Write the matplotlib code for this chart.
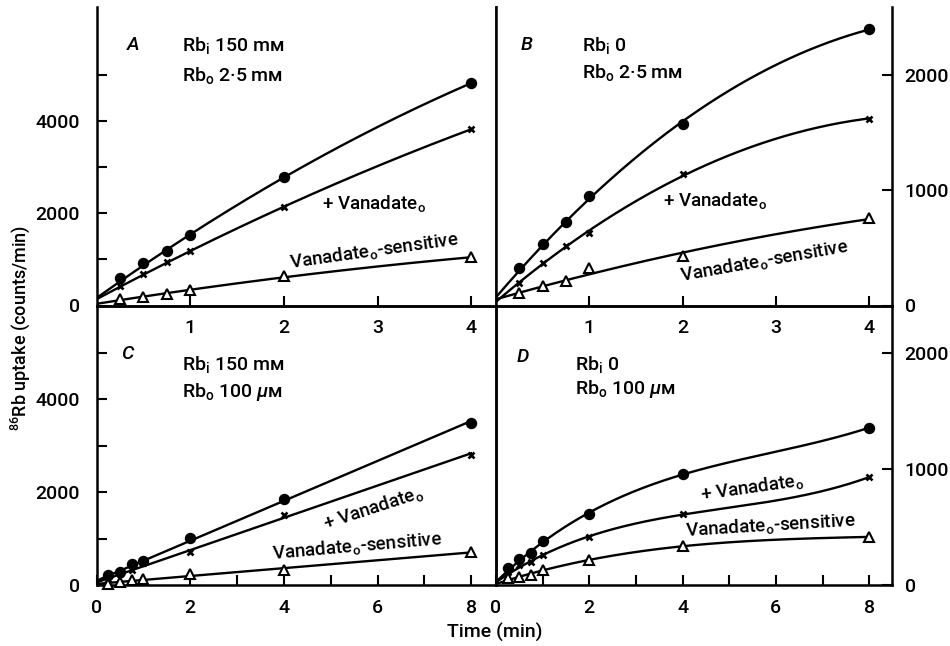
import matplotlib
matplotlib.use('Agg')
import matplotlib.pyplot as plt
import numpy as np

plt.rcParams['font.family'] = ['Roboto', 'DejaVu Sans']
plt.rcParams['font.weight'] = 'medium'
plt.rcParams['mathtext.fontset'] = 'custom'
plt.rcParams['mathtext.rm'] = 'Roboto:medium'
plt.rcParams['mathtext.it'] = 'Roboto:italic:medium'

# time (min); first entry = where the drawn curve starts (no marker there)
t_short = [0, 0.25, 0.5, 0.75, 1, 2, 4]
t_long = [0, 0.25, 0.5, 0.75, 1, 2, 4, 8]

# A: Rb_i 150 mM, Rb_o 2.5 mM
a_ctrl = [100, 590, 913, 1180, 1520, 2780, 4830]
a_van = [100, 430, 690, 935, 1175, 2130, 3830]
a_sens = [40, 135, 180, 260, 326, 630, 1045]

# B: Rb_i 0, Rb_o 2.5 mM
b_ctrl = [40, 321, 535, 725, 945, 1570, 2395]
b_van = [40, 197, 364, 515, 625, 1136, 1618]
b_sens = [40, 108, 170, 208, 321, 425, 754]

# C: Rb_i 150 mM, Rb_o 100 uM
c_ctrl = [0, 215, 285, 450, 520, 1005, 1855, 3490]
c_van = [0, 120, 230, 330, 474, 711, 1508, 2802]
c_sens = [0, 30, 55, 108, 130, 230, 330, 705]

# D: Rb_i 0, Rb_o 100 uM
d_ctrl = [0, 150, 222, 276, 375, 612, 954, 1353]
d_van = [0, 110, 172, 198, 255, 410, 609, 928]
d_sens = [0, 60, 69, 86, 129, 218, 333, 414]

W, H = 950, 646
fig = plt.figure(figsize=(9.5, 6.46), dpi=100)

def box(x0, x1, y0, y1):
    return [x0 / W, 1 - y1 / H, (x1 - x0) / W, (y1 - y0) / H]

axA = fig.add_axes(box(96.5, 496, 7, 305.5))
axB = fig.add_axes(box(496, 892, 7, 305.5))
axC = fig.add_axes(box(96.5, 496, 305.5, 585))
axD = fig.add_axes(box(496, 892, 305.5, 585))
axC.patch.set_visible(False)
axD.patch.set_visible(False)

def draw(ax, t, series, deg):
    tt = np.linspace(0, t[-1], 300)
    for vals, mk, fc, ms, mew in series:
        p = np.polyfit(t, vals, deg)
        ax.plot(tt, np.polyval(p, tt), color='black', lw=1.7, zorder=2)
        ax.plot(t[1:], vals[1:], ls='none', marker=mk, ms=ms, mfc=fc,
                mec='black', mew=mew, zorder=3, clip_on=False)

def styles(ctrl, van, sens):
    return [(ctrl, 'o', 'black', 7, 1.2), (van, 'x', 'black', 5, 1.9),
            (sens, '^', 'white', 7, 1.5)]

draw(axA, t_short, styles(a_ctrl, a_van, a_sens), 2)
draw(axB, t_short, styles(b_ctrl, b_van, b_sens), 2)
draw(axC, t_long, styles(c_ctrl, c_van, c_sens), 1)
draw(axD, t_long, styles(d_ctrl, d_van, d_sens), 3)

for ax in [axA, axB, axC, axD]:
    for s in ax.spines.values():
        s.set_linewidth(1.8)
    ax.tick_params(direction='in', length=7, width=1.5, labelsize=14, pad=10)

axA.spines['top'].set_visible(False)
axB.spines['top'].set_visible(False)

axA.set_xlim(0, 4.264)
axB.set_xlim(0, 4.244)
axC.set_xlim(0, 8.53)
axD.set_xlim(0, 8.49)
axA.set_ylim(0, 6480)
axB.set_ylim(0, 2585)
axC.set_ylim(0, 6013)
axD.set_ylim(0, 2405)

for ax in [axA, axB]:
    ax.set_xticks([1, 2, 3, 4])
for ax in [axC, axD]:
    ax.set_xticks(range(0, 9))
    ax.set_xticklabels(['0', '', '2', '', '4', '', '6', '', '8'])

for ax in [axA, axC]:
    ax.set_yticks(range(0, 6000, 1000))
    ax.set_yticklabels(['0', '', '2000', '', '4000', ''])
    ax.tick_params(axis='y', pad=12)

for ax in [axB, axD]:
    ax.yaxis.tick_right()
    ax.set_yticks([0, 1000, 2000])
    ax.tick_params(axis='y', pad=9)

txt = dict(fontsize=14, color='black')
lab = dict(fontsize=13.5, color='black')

axA.text(0.39, 5650, 'A', style='italic', ha='center', va='center', **txt)
axA.text(0.91, 5650, r'Rb$_{\rm i}$ 150 mᴍ', va='center', **txt)
axA.text(0.91, 5000, r'Rb$_{\rm o}$ 2·5 mᴍ', va='center', **txt)
axA.text(2.41, 2220, r'+ Vanadate$_{\rm o}$', va='center', **lab)
axA.text(2.96, 1190, r'Vanadate$_{\rm o}$-sensitive', ha='center', va='center',
         rotation=8, rotation_mode='anchor', **lab)

axB.text(0.33, 2255, 'B', style='italic', ha='center', va='center', **txt)
axB.text(0.92, 2255, r'Rb$_{\rm i}$ 0', va='center', **txt)
axB.text(0.92, 2020, r'Rb$_{\rm o}$ 2·5 mᴍ', va='center', **txt)
axB.text(1.79, 910, r'+ Vanadate$_{\rm o}$', va='center', **lab)
axB.text(2.87, 385, r'Vanadate$_{\rm o}$-sensitive', ha='center', va='center',
         rotation=10, rotation_mode='anchor', **lab)

axC.text(0.65, 4960, 'C', style='italic', ha='center', va='center', **txt)
axC.text(1.82, 4740, r'Rb$_{\rm i}$ 150 mᴍ', va='center', **txt)
axC.text(1.82, 4160, r'Rb$_{\rm o}$ 100 $\mu$ᴍ', va='center', **txt)
axC.text(5.92, 1660, r'+ Vanadate$_{\rm o}$', ha='center', va='center',
         rotation=18, rotation_mode='anchor', **lab)
axC.text(5.56, 840, r'Vanadate$_{\rm o}$-sensitive', ha='center', va='center',
         rotation=5, rotation_mode='anchor', **lab)

axD.text(0.58, 1965, 'D', style='italic', ha='center', va='center', **txt)
axD.text(1.70, 1897, r'Rb$_{\rm i}$ 0', va='center', **txt)
axD.text(1.70, 1690, r'Rb$_{\rm o}$ 100 $\mu$ᴍ', va='center', **txt)
axD.text(5.49, 836, r'+ Vanadate$_{\rm o}$', ha='center', va='center',
         rotation=8, rotation_mode='anchor', **lab)
axD.text(5.88, 517, r'Vanadate$_{\rm o}$-sensitive', ha='center', va='center',
         rotation=3.5, rotation_mode='anchor', **lab)

fig.text(495 / W, 1 - 632 / H, 'Time (min)', ha='center', va='center', fontsize=14)
fig.text(20 / W, 1 - 328 / H, r'$^{86}$Rb uptake (counts/min)', rotation=90,
         ha='center', va='center', fontsize=13)

fig.savefig('out.png', dpi=100)
